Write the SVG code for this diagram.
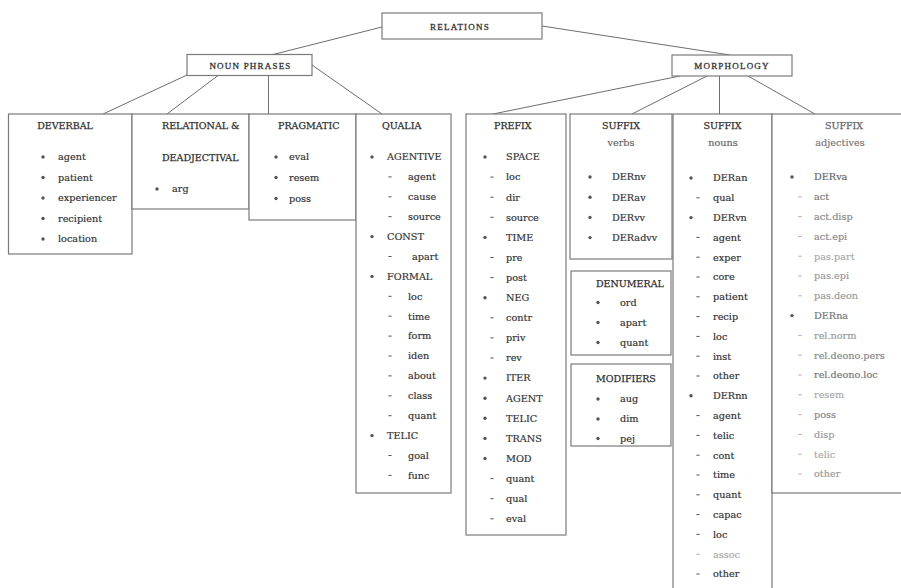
<svg xmlns="http://www.w3.org/2000/svg" xmlns:xlink="http://www.w3.org/1999/xlink" width="901" height="588" viewBox="0 0 901 588">
<style>
.box{fill:#fff;stroke:#7a7a7a;stroke-width:1.2}
.con{fill:none;stroke:#6e6e6e;stroke-width:1}
.top{font-family:"Liberation Serif",serif;font-size:9px;letter-spacing:1.2px;fill:#333;stroke:#333;stroke-width:0.3;text-anchor:middle}
.t{font-family:"DejaVu Serif",serif;font-size:9.5px;fill:#2e2e2e;stroke:#2e2e2e;stroke-width:0.25}
.c{text-anchor:middle}
.i{font-family:"DejaVu Serif",serif;font-size:9.7px;fill:#333;stroke:#333;stroke-width:0.2}
.s{fill:#666;stroke:#666}
.bul{fill:#555}
.dash{stroke:#555;stroke-width:1}
.f1{fill:#777;stroke:#777}.f2{fill:#888;stroke:#888}.f3{fill:#9a9a9a;stroke:#9a9a9a}.f4{fill:#aaa;stroke:#aaa}
.dl{stroke:#aaa}
</style>
<defs>
<circle id="b" class="bul" r="1.7"/>
<path id="d" class="dash" d="M-1.6,0h3.2"/>
<path id="dl" class="dash dl" d="M-1.6,0h3.2"/>
</defs>
<rect width="901" height="588" fill="#fff"/>
<g id="connectors">
<path class="con" d="M382,27 L273,54.5"/>
<path class="con" d="M542,26 L730,55"/>
<path class="con" d="M187,75 L103,114"/>
<path class="con" d="M218,75.5 L167,114"/>
<path class="con" d="M268.5,75.5 V114"/>
<path class="con" d="M312,65 L382,114"/>
<path class="con" d="M680,76 L493,114"/>
<path class="con" d="M707,76 L632,114"/>
<path class="con" d="M719.5,76 V114"/>
<path class="con" d="M748,76 L815,114"/>
</g>
<g id="relations">
<rect class="box" x="382" y="13" width="160" height="26"/>
<text class="top" x="460" y="29.5">RELATIONS</text>
</g>
<g id="noun-phrases">
<rect class="box" x="187" y="54.5" width="125" height="21"/>
<text class="top" x="250.5" y="68.5">NOUN PHRASES</text>
</g>
<g id="morphology">
<rect class="box" x="672" y="55" width="120" height="21"/>
<text class="top" x="732" y="69">MORPHOLOGY</text>
</g>
<g id="deverbal">
<rect class="box" x="8.5" y="114" width="123.5" height="140"/>
<text class="t c" x="65" y="128.5">DEVERBAL</text>
<use href="#b" x="43" y="157"/><text class="i" x="58" y="160.3">agent</text>
<use href="#b" x="43" y="177.5"/><text class="i" x="58" y="180.8">patient</text>
<use href="#b" x="43" y="198"/><text class="i" x="58" y="201.3">experiencer</text>
<use href="#b" x="43" y="218.5"/><text class="i" x="58" y="221.8">recipient</text>
<use href="#b" x="43" y="239"/><text class="i" x="58" y="242.3">location</text>
</g>
<g id="relational">
<rect class="box" x="132" y="114" width="117" height="95"/>
<text class="t" x="162" y="128.5">RELATIONAL &amp;</text>
<text class="t" x="162" y="160.5">DEADJECTIVAL</text>
<use href="#b" x="157" y="189"/><text class="i" x="172" y="192.3">arg</text>
</g>
<g id="pragmatic">
<rect class="box" x="249" y="114" width="107" height="106"/>
<text class="t" x="278" y="128.5">PRAGMATIC</text>
<use href="#b" x="276" y="157"/><text class="i" x="289" y="160.3">eval</text>
<use href="#b" x="276" y="177.5"/><text class="i" x="289" y="180.8">resem</text>
<use href="#b" x="276" y="198.5"/><text class="i" x="289" y="201.8">poss</text>
</g>
<g id="qualia">
<rect class="box" x="356" y="114" width="95" height="379"/>
<text class="t" x="382" y="128.5">QUALIA</text>
<use href="#b" x="372" y="157"/><text class="i" x="387" y="160.3">AGENTIVE</text>
<use href="#d" x="390" y="176.9"/><text class="i" x="408" y="180.2">agent</text>
<use href="#d" x="390" y="196.8"/><text class="i" x="408" y="200.1">cause</text>
<use href="#d" x="390" y="216.7"/><text class="i" x="408" y="220">source</text>
<use href="#b" x="372" y="236.6"/><text class="i" x="387" y="239.9">CONST</text>
<use href="#d" x="390" y="256.5"/><text class="i" x="412" y="259.8">apart</text>
<use href="#b" x="372" y="276.4"/><text class="i" x="387" y="279.7">FORMAL</text>
<use href="#d" x="390" y="296.3"/><text class="i" x="408" y="299.6">loc</text>
<use href="#d" x="390" y="316.2"/><text class="i" x="408" y="319.5">time</text>
<use href="#d" x="390" y="336.1"/><text class="i" x="408" y="339.4">form</text>
<use href="#d" x="390" y="356"/><text class="i" x="408" y="359.3">iden</text>
<use href="#d" x="390" y="375.9"/><text class="i" x="408" y="379.2">about</text>
<use href="#d" x="390" y="395.8"/><text class="i" x="408" y="399.1">class</text>
<use href="#d" x="390" y="415.7"/><text class="i" x="408" y="419">quant</text>
<use href="#b" x="372" y="435.6"/><text class="i" x="387" y="438.9">TELIC</text>
<use href="#d" x="390" y="455.5"/><text class="i" x="408" y="458.8">goal</text>
<use href="#d" x="390" y="475.4"/><text class="i" x="408" y="478.7">func</text>
</g>
<g id="prefix">
<rect class="box" x="466" y="114" width="100" height="421"/>
<text class="t" x="494" y="128.5">PREFIX</text>
<use href="#b" x="485" y="157"/><text class="i" x="506" y="160.3">SPACE</text>
<use href="#d" x="492" y="177.1"/><text class="i" x="506" y="180.4">loc</text>
<use href="#d" x="492" y="197.2"/><text class="i" x="506" y="200.5">dir</text>
<use href="#d" x="492" y="217.3"/><text class="i" x="506" y="220.6">source</text>
<use href="#b" x="485" y="237.4"/><text class="i" x="506" y="240.7">TIME</text>
<use href="#d" x="492" y="257.5"/><text class="i" x="506" y="260.8">pre</text>
<use href="#d" x="492" y="277.6"/><text class="i" x="506" y="280.9">post</text>
<use href="#b" x="485" y="297.7"/><text class="i" x="506" y="301">NEG</text>
<use href="#d" x="492" y="317.8"/><text class="i" x="506" y="321.1">contr</text>
<use href="#d" x="492" y="337.9"/><text class="i" x="506" y="341.2">priv</text>
<use href="#d" x="492" y="358"/><text class="i" x="506" y="361.3">rev</text>
<use href="#b" x="485" y="378.1"/><text class="i" x="506" y="381.4">ITER</text>
<use href="#b" x="485" y="398.2"/><text class="i" x="506" y="401.5">AGENT</text>
<use href="#b" x="485" y="418.3"/><text class="i" x="506" y="421.6">TELIC</text>
<use href="#b" x="485" y="438.4"/><text class="i" x="506" y="441.7">TRANS</text>
<use href="#b" x="485" y="458.5"/><text class="i" x="506" y="461.8">MOD</text>
<use href="#d" x="492" y="478.6"/><text class="i" x="506" y="481.9">quant</text>
<use href="#d" x="492" y="498.7"/><text class="i" x="506" y="502">qual</text>
<use href="#d" x="492" y="518.8"/><text class="i" x="506" y="522.1">eval</text>
</g>
<g id="suffix-verbs">
<rect class="box" x="570" y="114" width="102" height="145"/>
<text class="t c" x="621" y="128.5">SUFFIX</text>
<text class="i c s" x="621" y="146.3">verbs</text>
<use href="#b" x="590" y="177"/><text class="i" x="612" y="180.3">DERnv</text>
<use href="#b" x="590" y="197.2"/><text class="i" x="612" y="200.5">DERav</text>
<use href="#b" x="590" y="217.4"/><text class="i" x="612" y="220.7">DERvv</text>
<use href="#b" x="590" y="237.6"/><text class="i" x="612" y="240.9">DERadvv</text>
</g>
<g id="denumeral">
<rect class="box" x="571" y="271" width="100" height="84"/>
<text class="t" x="596" y="286.5">DENUMERAL</text>
<use href="#b" x="598" y="302.5"/><text class="i" x="620" y="305.8">ord</text>
<use href="#b" x="598" y="322.5"/><text class="i" x="620" y="325.8">apart</text>
<use href="#b" x="598" y="342.5"/><text class="i" x="620" y="345.8">quant</text>
</g>
<g id="modifiers">
<rect class="box" x="571" y="364" width="100" height="82"/>
<text class="t" x="596" y="381.5">MODIFIERS</text>
<use href="#b" x="598" y="399"/><text class="i" x="620" y="402.3">aug</text>
<use href="#b" x="598" y="419"/><text class="i" x="620" y="422.3">dim</text>
<use href="#b" x="598" y="438.5"/><text class="i" x="620" y="441.8">pej</text>
</g>
<g id="suffix-nouns">
<rect class="box" x="673" y="114" width="99" height="490"/>
<text class="t c" x="722.5" y="128.5">SUFFIX</text>
<text class="i c s" x="723" y="146.3">nouns</text>
<use href="#b" x="691" y="178"/><text class="i" x="713" y="181.3">DERan</text>
<use href="#d" x="698" y="197.8"/><text class="i" x="713" y="201.1">qual</text>
<use href="#b" x="691" y="217.6"/><text class="i" x="713" y="220.9">DERvn</text>
<use href="#d" x="698" y="237.4"/><text class="i" x="713" y="240.7">agent</text>
<use href="#d" x="698" y="257.2"/><text class="i" x="713" y="260.5">exper</text>
<use href="#d" x="698" y="277"/><text class="i" x="713" y="280.3">core</text>
<use href="#d" x="698" y="296.8"/><text class="i" x="713" y="300.1">patient</text>
<use href="#d" x="698" y="316.6"/><text class="i" x="713" y="319.9">recip</text>
<use href="#d" x="698" y="336.4"/><text class="i" x="713" y="339.7">loc</text>
<use href="#d" x="698" y="356.2"/><text class="i" x="713" y="359.5">inst</text>
<use href="#d" x="698" y="376"/><text class="i" x="713" y="379.3">other</text>
<use href="#b" x="691" y="395.8"/><text class="i" x="713" y="399.1">DERnn</text>
<use href="#d" x="698" y="415.6"/><text class="i" x="713" y="418.9">agent</text>
<use href="#d" x="698" y="435.4"/><text class="i" x="713" y="438.7">telic</text>
<use href="#d" x="698" y="455.2"/><text class="i" x="713" y="458.5">cont</text>
<use href="#d" x="698" y="475"/><text class="i" x="713" y="478.3">time</text>
<use href="#d" x="698" y="494.8"/><text class="i" x="713" y="498.1">quant</text>
<use href="#d" x="698" y="514.6"/><text class="i" x="713" y="517.9">capac</text>
<use href="#d" x="698" y="534.4"/><text class="i" x="713" y="537.7">loc</text>
<use href="#dl" x="698" y="554.2"/><text class="i f4" x="713" y="557.5">assoc</text>
<use href="#d" x="698" y="574"/><text class="i" x="713" y="577.3">other</text>
</g>
<g id="suffix-adjectives">
<rect class="box" x="772" y="114" width="140" height="379"/>
<text class="t c s" x="844" y="128.5">SUFFIX</text>
<text class="i c f1" x="840" y="146.3">adjectives</text>
<use href="#b" x="792" y="177"/><text class="i s" x="814" y="180.3">DERva</text>
<use href="#dl" x="800" y="196.8"/><text class="i f1" x="814" y="200.1">act</text>
<use href="#dl" x="800" y="216.6"/><text class="i f2" x="814" y="219.9">act.disp</text>
<use href="#dl" x="800" y="236.4"/><text class="i f2" x="814" y="239.7">act.epi</text>
<use href="#dl" x="800" y="256.2"/><text class="i f4" x="814" y="259.5">pas.part</text>
<use href="#dl" x="800" y="276"/><text class="i f3" x="814" y="279.3">pas.epi</text>
<use href="#dl" x="800" y="295.8"/><text class="i f3" x="814" y="299.1">pas.deon</text>
<use href="#b" x="792" y="315.6"/><text class="i f1" x="814" y="318.9">DERna</text>
<use href="#dl" x="800" y="335.4"/><text class="i f3" x="814" y="338.7">rel.norm</text>
<use href="#dl" x="800" y="355.2"/><text class="i f2" x="814" y="358.5">rel.deono.pers</text>
<use href="#dl" x="800" y="375"/><text class="i f1" x="814" y="378.3">rel.deono.loc</text>
<use href="#dl" x="800" y="394.8"/><text class="i f4" x="814" y="398.1">resem</text>
<use href="#dl" x="800" y="414.6"/><text class="i f2" x="814" y="417.9">poss</text>
<use href="#dl" x="800" y="434.4"/><text class="i f3" x="814" y="437.7">disp</text>
<use href="#dl" x="800" y="454.2"/><text class="i f4" x="814" y="457.5">telic</text>
<use href="#dl" x="800" y="474"/><text class="i f3" x="814" y="477.3">other</text>
</g>
</svg>
